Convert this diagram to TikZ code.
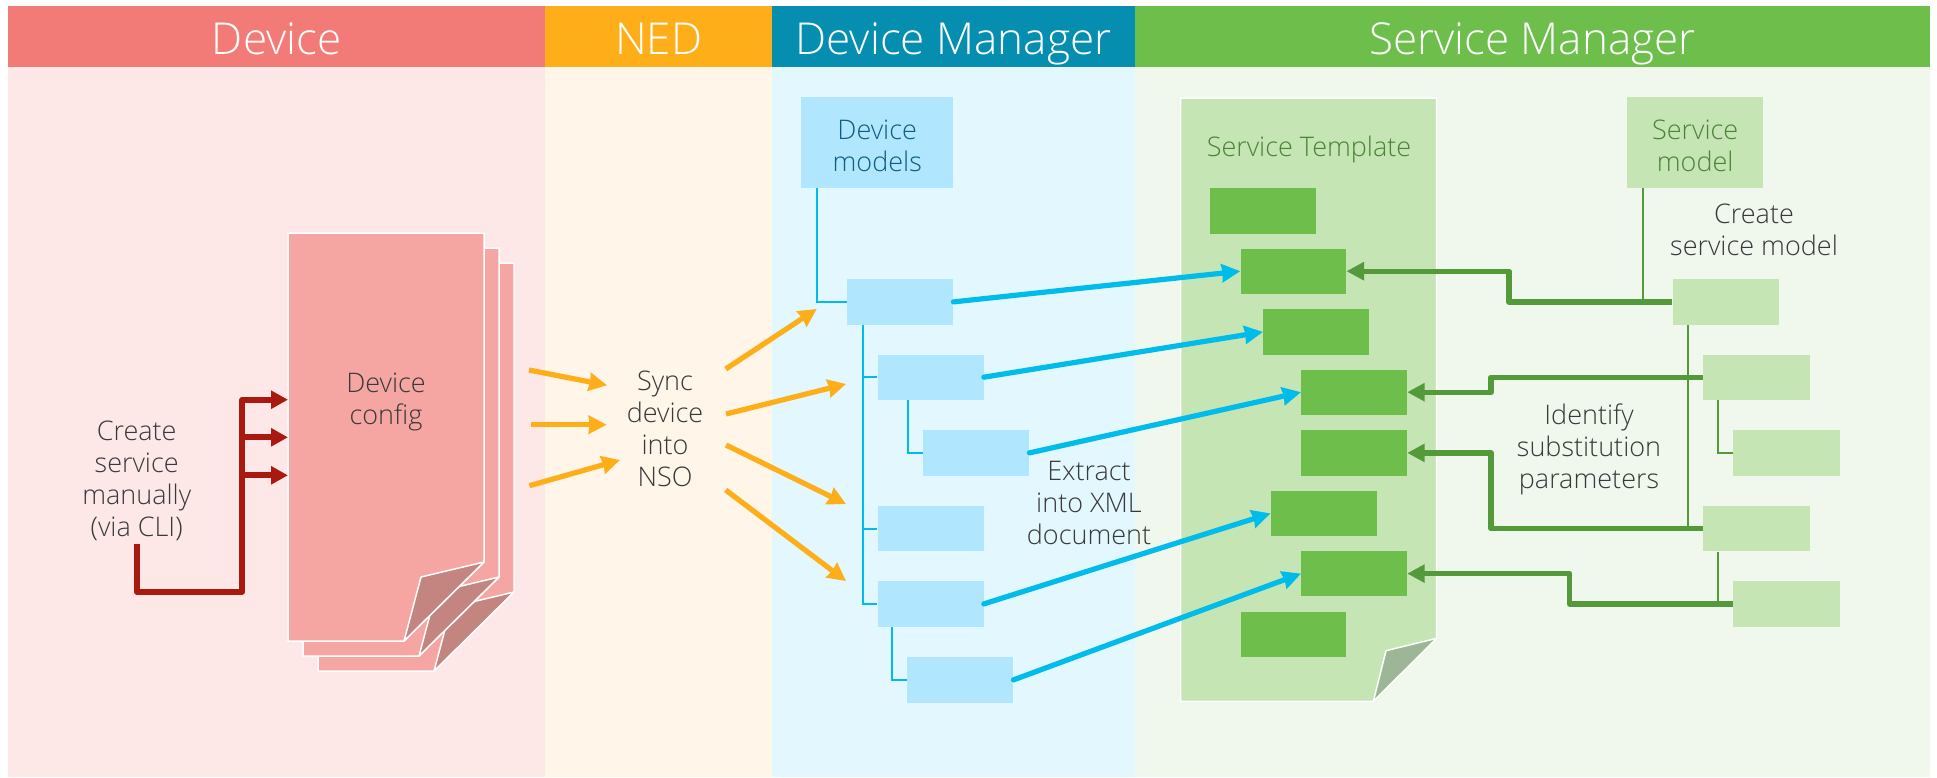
\documentclass[tikz,border=0pt]{standalone}
\usepackage{fontspec}
\setmainfont{Open Sans Light}
\usetikzlibrary{arrows.meta}
\definecolor{hR}{HTML}{F27B77}\definecolor{hO}{HTML}{FDAE19}\definecolor{hB}{HTML}{058EB0}\definecolor{hG}{HTML}{6DBE4A}
\definecolor{bR}{HTML}{FDE8E7}\definecolor{bO}{HTML}{FFF5E8}\definecolor{bB}{HTML}{E2F7FE}\definecolor{bG}{HTML}{F0F7EC}
\definecolor{pageR}{HTML}{F6A6A2}\definecolor{foldR}{HTML}{C48480}\definecolor{arrR}{HTML}{A81A10}
\definecolor{lB}{HTML}{B1E6FF}\definecolor{arrB}{HTML}{00BCEB}\definecolor{lG}{HTML}{C5E5B5}\definecolor{arrG}{HTML}{54993A}
\definecolor{foldG}{HTML}{9DB696}\definecolor{txt}{HTML}{39393B}\definecolor{txtB}{HTML}{0D5E82}\definecolor{txtG}{HTML}{4C8437}
\tikzset{
 head/.style={anchor=north west,minimum height=61pt,text=white,font=\fontsize{44}{48}\selectfont,inner sep=0pt,text height=35pt,text depth=0pt},
 lbl/.style={align=center,text=txt,font=\fontsize{27}{32}\selectfont,inner sep=0pt,anchor=base},
 dbox/.style={anchor=north west,fill=lB,minimum width=106pt,minimum height=45.4pt,inner sep=0pt},
 sbox/.style={anchor=north west,fill=lG,minimum width=106.4pt,minimum height=45.4pt,inner sep=0pt},
 tbox/.style={anchor=north west,fill=hG,minimum width=105.8pt,minimum height=45.4pt,inner sep=0pt},
 pagesheet/.style={fill=pageR,draw=white,line width=1.5pt,line join=miter},
 pagefold/.style={fill=foldR,draw=white,line width=1.5pt,line join=round},
 thinB/.style={draw=arrB,line width=2pt},
 thinG/.style={draw=arrG,line width=2pt},
 arrowR/.style={draw=arrR,line width=5.7pt,line join=round,-{Triangle[length=17pt,width=17.5pt]}},
 arrowO/.style={draw=hO,line width=5.2pt,-{Stealth[inset=1pt,length=18pt,width=18pt]}},
 arrowB/.style={draw=arrB,line width=5.2pt,line cap=round,-{Stealth[inset=1pt,length=18.5pt,width=18pt]}},
 arrowG/.style={draw=arrG,line width=5.4pt,line join=round,-{Triangle[length=17.5pt,width=17.5pt]}},
}
\begin{document}
\begin{tikzpicture}[x=1pt,y=-1pt]
\useasboundingbox (0,0) rectangle (1937,777);
\fill[white] (0,0) rectangle (1937,777);
% bands
\fill[bR] (8,67) rectangle (545,777);
\fill[bO] (545,67) rectangle (772,777);
\fill[bB] (772,67) rectangle (1134.5,777);
\fill[bG] (1134.5,67) rectangle (1930,777);
\node[head,fill=hR,minimum width=537pt] (hdev) at (8,6) {Device};
\node[head,fill=hO,minimum width=227pt] (hned) at (545,6) {NED};
\node[head,fill=hB,minimum width=362.5pt] (hdm) at (772,6) {Device Manager};
\node[head,fill=hG,minimum width=795.5pt] (hsm) at (1134.5,6) {Service Manager};
% stacked device pages
\foreach \d in {30,15,0}{
 \begin{scope}[shift={(\d,\d)}]
 \draw[pagesheet] (288,233) -- (484,233) -- (484,562) -- (404,641) -- (288,641) -- cycle;
 \draw[pagefold] (404,641) -- (421,577) -- (484,562) -- cycle;
 \end{scope}
}
\node[lbl] (cfg) at (386,424) {Device\\config};
\node[lbl] (man) at (136.7,536.7) {Create\\service\\manually\\(via CLI)};
\coordinate (r0) at (136.7,544);
\coordinate (r1) at (242.3,591.7);
\coordinate (p1) at (288,399.7);
\coordinate (p2) at (288,437.3);
\coordinate (p3) at (288,475.3);
\draw[arrowR] (r0) |- (r1) |- (p1);
\draw[arrowR] (r1 |- p2) -- (p2);
\draw[arrowR] (r1 |- p3) -- (p3);
% NED
\node[lbl] (sync) at (665,486.7) {Sync\\device\\into\\NSO};
\foreach \a/\b/\c/\e in {529/370/607/385.3, 531/424.7/606.7/424.7, 529.5/485.7/620/460, 725.7/369/816.7/309, 726/414/846/384, 726/445/846/504, 725.7/490/846/581}
  \draw[arrowO] (\a,\b) -- (\c,\e);
% device models
\node[dbox,minimum width=152pt,minimum height=91pt,text=txtB,align=center,font=\fontsize{27}{32}\selectfont] (dm) at (801,97) {\rule{0pt}{25pt}Device\\models};
\node[dbox] (n1) at (847,279) {};
\node[dbox] (n2) at (877.4,354.3) {};
\node[dbox] (n3) at (923,430) {};
\node[dbox] (n4) at (877.4,505.7) {};
\node[dbox] (n5) at (877.4,581) {};
\node[dbox] (n6) at (907,657) {};
\draw[thinB] ([xshift=-60.3pt]dm.south) |- (n1.west);
\draw[thinB] ([xshift=-37.7pt]n1.south) |- (n5.west);
\draw[thinB] ([xshift=-37.7pt]n1.south |- n2.west) -- (n2.west);
\draw[thinB] ([xshift=-37.7pt]n1.south |- n4.west) -- (n4.west);
\draw[thinB] ([xshift=-22.7pt]n2.south) |- (n3.west);
\draw[thinB] ([xshift=-38.4pt]n5.south) |- (n6.west);
\node[lbl] (xml) at (1089,544.7) {Extract\\into XML\\document};
% template
\draw[fill=lG,draw=white,line width=1.5pt] (1180.5,98) -- (1436.7,98) -- (1436.7,638.3) -- (1373.3,701.3) -- (1180.5,701.3) -- cycle;
\draw[fill=foldG,draw=white,line width=1.5pt,line join=round] (1373.3,701.3) -- (1386,650.7) -- (1436.7,638.3) -- cycle;
\node[text=txtG,font=\fontsize{27}{32}\selectfont,inner sep=0pt,anchor=base] (tt) at (1309,156) {Service Template};
\node[tbox] (g0) at (1210,188) {};
\node[tbox] (g1) at (1240.3,248.3) {};
\node[tbox] (g2) at (1263,309) {};
\node[tbox] (g3) at (1301,369.3) {};
\node[tbox] (g4) at (1301,430) {};
\node[tbox] (g5) at (1270.5,490.5) {};
\node[tbox] (g6) at (1301,550.7) {};
\node[tbox] (g7) at (1240.3,611.3) {};
\draw[arrowB] (n1.east) -- (g1.west);
\draw[arrowB] (n2.east) -- (g2.west);
\draw[arrowB] (n3.east) -- (g3.west);
\draw[arrowB] (n5.east) -- (g5.west);
\draw[arrowB] (n6.east) -- (g6.west);
% service model
\node[sbox,minimum width=136pt,minimum height=91pt,text=txtG,align=center,font=\fontsize{27}{32}\selectfont] (sm) at (1627,97) {\rule{0pt}{25pt}Service\\model};
\node[sbox] (s1) at (1672.3,279) {};
\node[sbox] (s2) at (1703,354.3) {};
\node[sbox] (s3) at (1733,430) {};
\node[sbox] (s4) at (1703,505.7) {};
\node[sbox] (s5) at (1733,581) {};
\draw[thinG] ([xshift=-52.7pt]sm.south) -- ([xshift=-52.7pt]sm.south |- s1.west);
\draw[thinG] ([xshift=-37.8pt]s1.south) -- ([xshift=-37.8pt]s1.south |- s4.west);
\draw[thinG] ([xshift=-38.6pt]s2.south) |- (s3.west);
\draw[thinG] ([xshift=-38.6pt]s4.south) -- ([xshift=-38.6pt]s4.south |- s5.west);
\coordinate (e1) at (1509,0);
\coordinate (e2) at (1491,0);
\coordinate (e3) at (1569.5,0);
\draw[arrowG] (s1.west) -- (s1.west -| e1) -- (g1.east -| e1) -- (g1.east);
\draw[arrowG] (s2.west) -- (s2.west -| e2) -- (g3.east -| e2) -- (g3.east);
\draw[arrowG] (s4.west) -- (s4.west -| e2) -- (g4.east -| e2) -- (g4.east);
\draw[arrowG] (s5.west) -- (s5.west -| e3) -- (g6.east -| e3) -- (g6.east);
\node[lbl] (csm) at (1754,255.7) {Create\\service model};
\node[lbl] (idp) at (1589,488.3) {Identify\\substitution\\parameters};
\end{tikzpicture}
\end{document}
